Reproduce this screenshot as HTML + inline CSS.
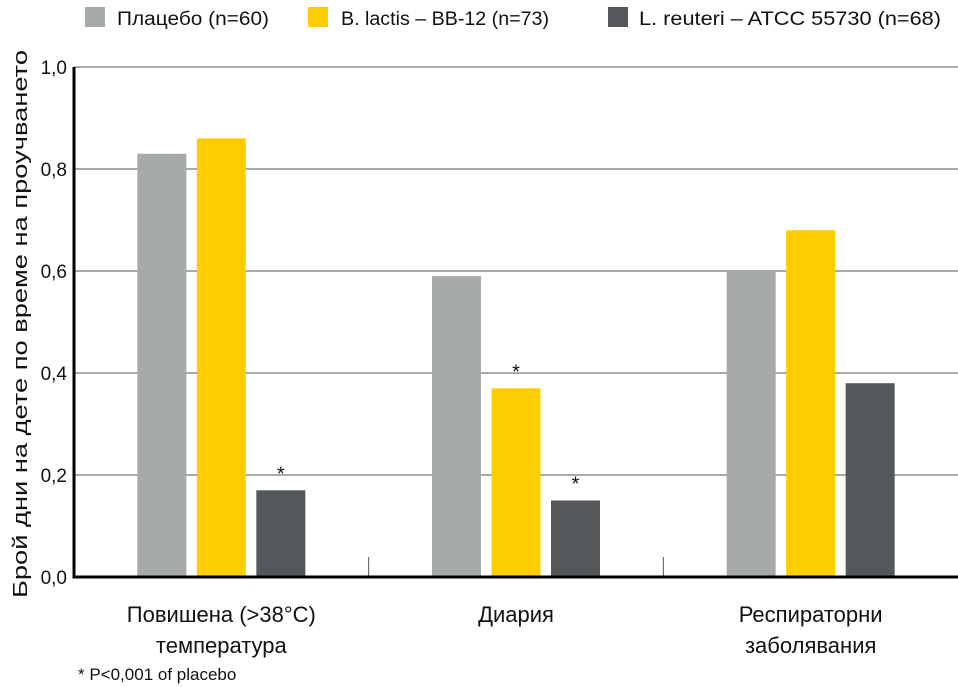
<!DOCTYPE html>
<html><head><meta charset="utf-8"><style>
html,body{margin:0;padding:0;background:#fff;}
svg{display:block;font-family:"Liberation Sans","Noto Sans CJK SC",sans-serif;}
</style></head><body>
<svg id="chart" width="958" height="687" viewBox="0 0 958 687">
<g id="legend">
  <rect x="85" y="7" width="20" height="20" fill="#a7aaab"/>
  <text x="117" y="25" font-size="19" fill="#111" textLength="152" lengthAdjust="spacingAndGlyphs">Плацебо (n=60)</text>
  <rect x="308" y="7" width="20" height="20" fill="#fecd00"/>
  <text x="341" y="25" font-size="19" fill="#111" textLength="208" lengthAdjust="spacingAndGlyphs">B. lactis – BB-12 (n=73)</text>
  <rect x="608" y="7" width="20" height="20" fill="#54585a"/>
  <text x="639" y="25" font-size="19" fill="#111" textLength="302" lengthAdjust="spacingAndGlyphs">L. reuteri – ATCC 55730 (n=68)</text>
</g>
<g id="grid"></g>
<g id="bars"></g>
<g id="axes"></g>
<text transform="translate(27,324) rotate(-90)" text-anchor="middle" font-size="20" fill="#111" textLength="548" lengthAdjust="spacingAndGlyphs">Брой дни на дете по време на проучването</text>
<text x="78" y="680" font-size="17" fill="#111">* P&lt;0,001 of placebo</text>
</svg>
<script>
const categories = ["Повишена (>38°C)|температура", "Диария", "Респираторни|заболявания"];
const seriesNames = ["placebo", "b-lactis", "l-reuteri"];
const placebo = [0.83, 0.59, 0.60];
const bLactis = [0.86, 0.37, 0.68];
const lReuteri = [0.17, 0.15, 0.38];
const significant = [[false,false,true],[false,true,true],[false,false,false]];
const yTicks = [0, 0.2, 0.4, 0.6, 0.8, 1.0];
const yTickLabels = ["0,0", "0,2", "0,4", "0,6", "0,8", "1,0"];

const NS = "http://www.w3.org/2000/svg";
const X0 = 74, X1 = 958, Y0 = 577, Y1 = 67;
const colors = ["#a7aaab", "#fecd00", "#54585a"];
const band = (X1 - X0) / categories.length;
function yScale(v){ return Y0 - (v / 1.0) * (Y0 - Y1); }
function xCenter(i){ return X0 + band * (i + 0.5); }
function mk(tag, attrs, parent){ const e = document.createElementNS(NS, tag); for (const k in attrs) e.setAttribute(k, attrs[k]); parent.appendChild(e); return e; }

const grid = document.getElementById("grid");
const axes = document.getElementById("axes");
const barsG = document.getElementById("bars");
yTicks.forEach((t, i) => {
  const y = yScale(t);
  if (t > 0) {
    const l = mk("line", {x1: X0, x2: X1, y1: y, y2: y, stroke: "#555", "stroke-width": 1}, grid);
    
    
  }
  const tx = mk("text", {x: 67, y: y + 7, "text-anchor": "end", "font-size": 19, fill: "#111"}, axes);
  tx.textContent = yTickLabels[i];
  
  
});
const series = [placebo, bLactis, lReuteri];
const bw = 49, pitch = 59.5;
categories.forEach((c, ci) => {
  const cx = xCenter(ci);
  series.forEach((s, si) => {
    const x = cx + (si - 1) * pitch - bw / 2;
    const y = yScale(s[ci]);
    const r = mk("rect", {x: x, y: y, width: bw, height: Y0 - y, fill: colors[si]}, barsG);
    
    
    if (significant[ci][si]) {
      const st = mk("text", {x: x + bw / 2, y: y - 10, "text-anchor": "middle", "font-size": 20, fill: "#111"}, barsG);
      st.textContent = "*";
      
      
    }
  });
  const lines = c.split("|");
  lines.forEach((ln, li) => {
    const t = mk("text", {x: cx, y: 622 + li * 31, "text-anchor": "middle", "font-size": 22, fill: "#111"}, axes);
    t.textContent = ln;
    
    
  });
  if (ci > 0) {
    const d = mk("line", {x1: X0 + band * ci, x2: X0 + band * ci, y1: 557, y2: Y0, stroke: "#555", "stroke-width": 1}, axes);
    
    
  }
});
const ya = mk("line", {x1: X0, x2: X0, y1: Y1, y2: Y0 + 1.5, stroke: "#000", "stroke-width": 3}, axes);


const xa = mk("line", {x1: X0 - 1.5, x2: X1, y1: Y0, y2: Y0, stroke: "#000", "stroke-width": 3}, axes);


</script>
</body></html>
